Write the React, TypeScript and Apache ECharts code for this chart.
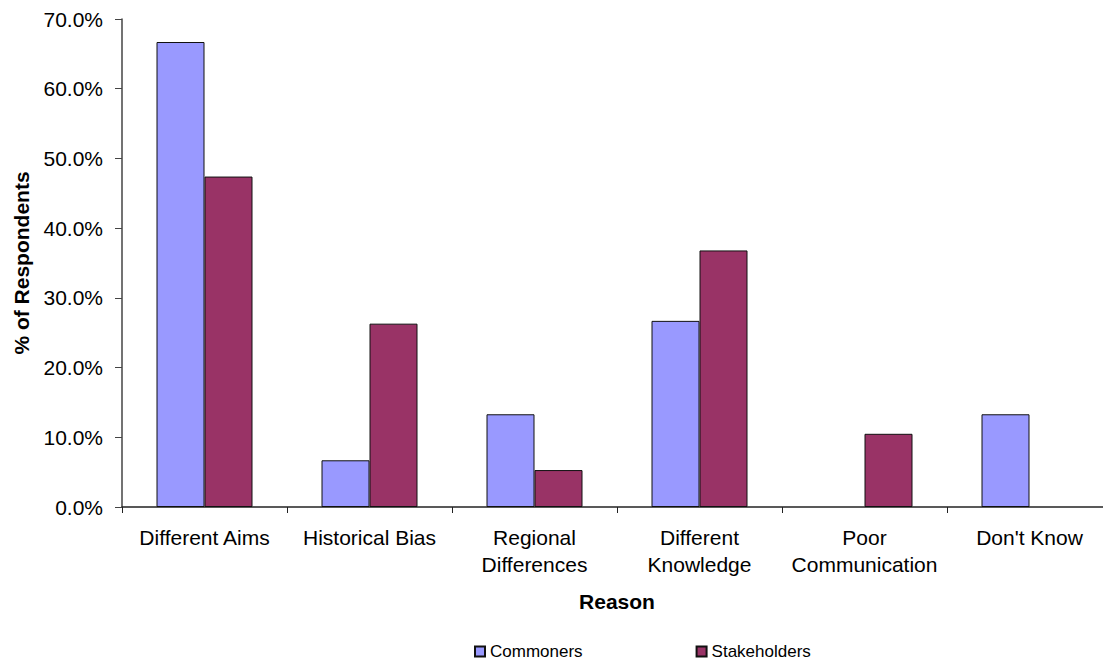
import React, { useEffect, useRef } from "react";
import * as echarts from "echarts";

const categories = [
  "Different Aims",
  "Historical Bias",
  "Regional\nDifferences",
  "Different\nKnowledge",
  "Poor\nCommunication",
  "Don't Know",
];
const commoners = [66.7, 6.7, 13.3, 26.7, 0, 13.3];
const stakeholders = [47.4, 26.3, 5.3, 36.8, 10.5, 0];
const seriesNames = ["Commoners", "Stakeholders"];
const yTicks = { min: 0, max: 70, interval: 10 };

const FONT = "'Liberation Sans', Arial, sans-serif";
const hideZero = (arr: number[]) => arr.map((v) => (v === 0 ? null : v));

export default function App() {
  const ref = useRef<HTMLDivElement>(null);
  useEffect(() => {
    if (!ref.current) return;
    const chart = echarts.init(ref.current, undefined, { renderer: "svg" });
    chart.setOption({
      animation: false,
      backgroundColor: "#ffffff",
      textStyle: { fontFamily: FONT },
      grid: { left: 122, right: 8, top: 19, bottom: 153, containLabel: false },
      legend: {
        left: 474,
        top: 643,
        padding: 0,
        itemWidth: 10,
        itemHeight: 10,
        itemGap: 113,
        icon: "rect",
        textStyle: { fontSize: 17, color: "#000", fontFamily: FONT },
        data: seriesNames,
      },
      xAxis: {
        type: "category",
        data: categories,
        name: "Reason",
        nameLocation: "middle",
        nameGap: 84,
        nameTextStyle: { fontSize: 21, fontWeight: "bold", color: "#000", fontFamily: FONT },
        axisLine: { lineStyle: { color: "#222", width: 1.5 } },
        axisTick: { show: true, alignWithLabel: false, length: 6, lineStyle: { color: "#222" } },
        axisLabel: { fontSize: 21, color: "#000", margin: 17, lineHeight: 27, fontFamily: FONT, interval: 0 },
      },
      yAxis: {
        type: "value",
        min: yTicks.min,
        max: yTicks.max,
        interval: yTicks.interval,
        name: "% of Respondents",
        nameLocation: "middle",
        nameGap: 90,
        nameTextStyle: { fontSize: 21, fontWeight: "bold", color: "#000", fontFamily: FONT },
        axisLine: { show: true, lineStyle: { color: "#444", width: 1.5 } },
        axisTick: { show: true, length: 7, lineStyle: { color: "#444" } },
        splitLine: { show: false },
        axisLabel: {
          fontSize: 21,
          color: "#000",
          margin: 19,
          fontFamily: FONT,
          formatter: (v: number) => v.toFixed(1) + "%",
        },
      },
      series: [
        {
          name: seriesNames[0],
          type: "bar",
          data: hideZero(commoners),
          barWidth: 48,
          barGap: "0%",
          itemStyle: { color: "#9999FF", borderColor: "#111", borderWidth: 1 },
        },
        {
          name: seriesNames[1],
          type: "bar",
          data: hideZero(stakeholders),
          barWidth: 48,
          barGap: "0%",
          itemStyle: { color: "#993366", borderColor: "#111", borderWidth: 1 },
        },
      ],
    });
    return () => chart.dispose();
  }, []);
  return (
    <div style={{ position: "absolute", left: 0, top: 0, width: 1103, height: 660, overflow: "hidden" }}>
      <div ref={ref} style={{ width: 1120, height: 660 }} />
    </div>
  );
}
